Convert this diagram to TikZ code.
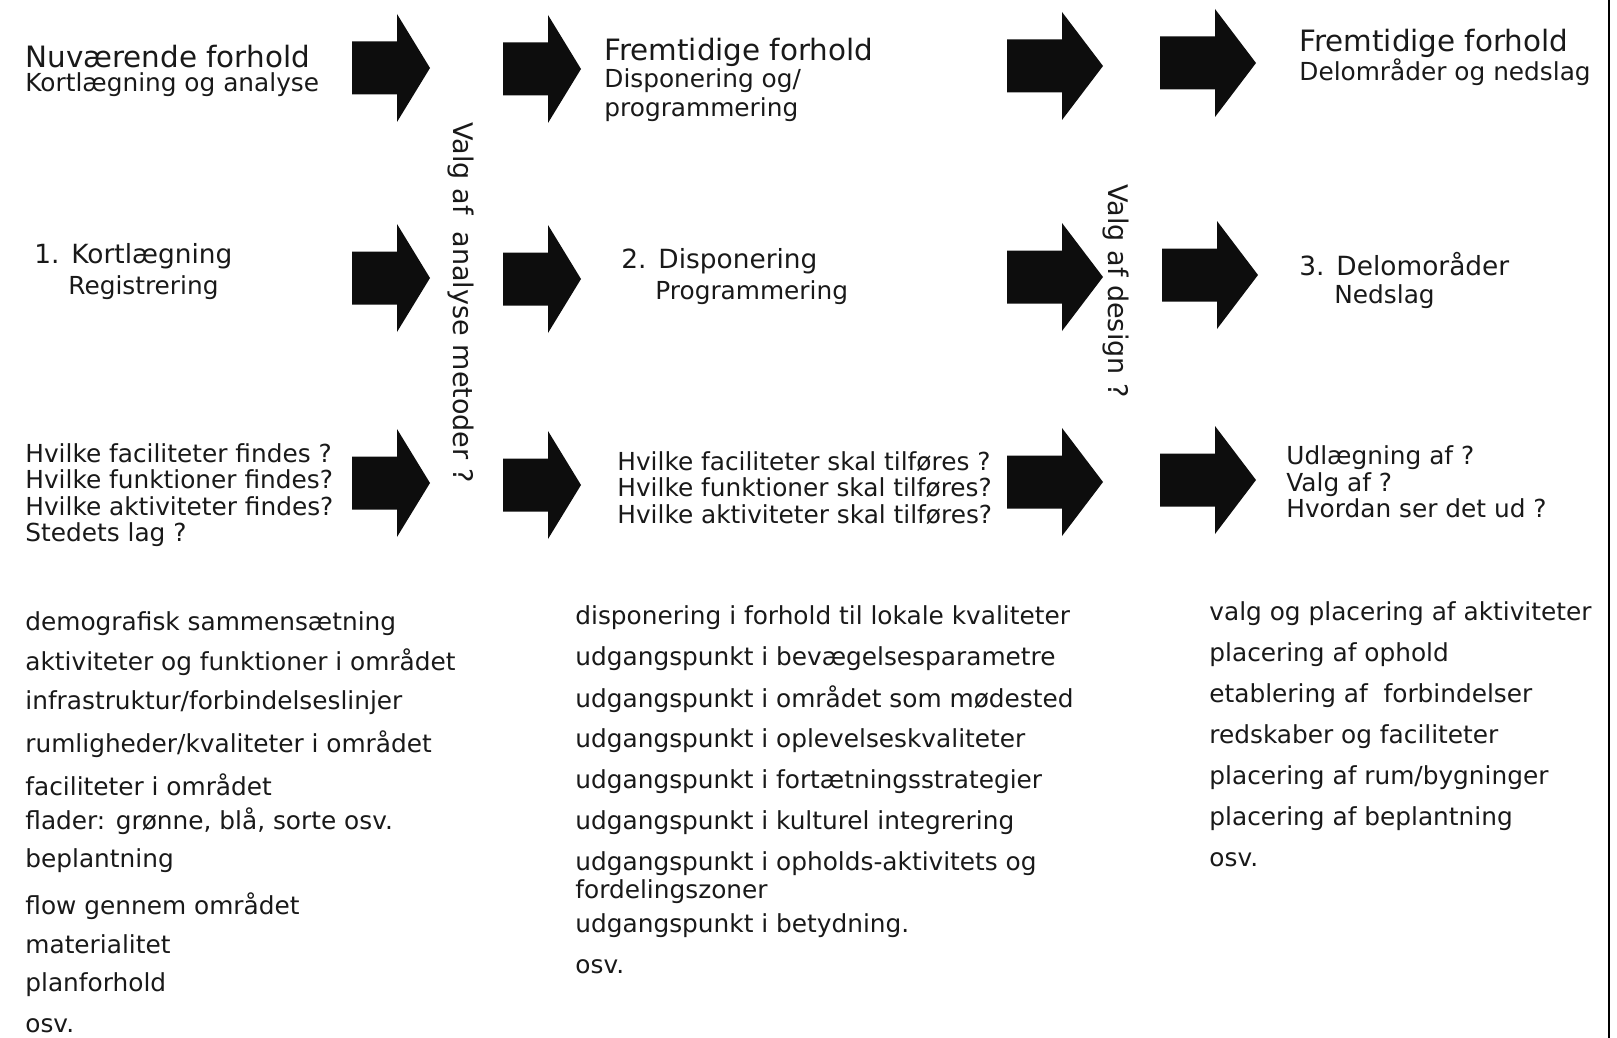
\documentclass[tikz,border=0pt]{standalone}
\usepackage{fontspec}
\setmainfont{DejaVu Sans}
\tikzset{
        node_text/.style={inner sep=0pt, anchor=west, align=left, text=black!90},
        % Column headings
        node_head/.style={node_text, font=\fontsize{14.7}{17}\selectfont},
        % Sub headings
        node_sub/.style={node_text, font=\fontsize{12.4}{14.5}\selectfont},
        % Numbered steps
        node_step/.style={node_text, font=\fontsize{13.2}{15}\selectfont},
        % Question blocks
        node_question/.style={node_text, font=\fontsize{12.4}{13.25}\selectfont},
        % List items
        node_item/.style={node_text, font=\fontsize{12.4}{14}\selectfont},
        % Rotated choice labels
        node_choice/.style={inner sep=0pt, anchor=west, rotate=-90, text=black!90, font=\fontsize{13.5}{15}\selectfont},
        % Block arrows: shaft length, head length
        pics/block_arrow/.style n args={2}{code={
            \fill[black!95] (0,-26.5) -- (#1,-26.5) -- (#1,-54) -- (#1+#2,0)
                -- (#1,54) -- (#1,26.5) -- (0,26.5) -- cycle;
        }}
}
\begin{document}
\begin{tikzpicture}[x=0.5pt, y=-0.5pt]
            \useasboundingbox (0,0) rectangle (1617,1038);
            \draw[line width=1pt] (1609,0) -- (1609,1038);

            % arrows
            \foreach \ax/\ay in {352/68, 503/69, 352/278, 503/279, 352/483, 503/485}
                \pic at (\ax,\ay) {block_arrow={45}{33}};
            \foreach \ax/\ay in {1007/66, 1160/63, 1007/277, 1162/275, 1007/482, 1160/480}
                \pic at (\ax,\ay) {block_arrow={55}{41}};

            % headings
            \node[node_head] (now_head) at (25,57) {Nuværende forhold};
            \node[node_sub] (now_sub) at (25,85) {Kortlægning og analyse};
            \node[node_head] (future_head) at (604,52) {Fremtidige forhold};
            \node[node_sub] (future_sub) at (604,95) {Disponering og/\\programmering};
            \node[node_head] (part_head) at (1299,43) {Fremtidige forhold};
            \node[node_sub] (part_sub) at (1299,72) {Delområder og nedslag};

            % steps
            \node[node_step] (step_one) at (34,256) {1.\hspace{0.45em}Kortlægning};
            \node[node_sub] (step_one_sub) at (68,288) {Registrering};
            \node[node_step] (step_two) at (621,261) {2.\hspace{0.45em}Disponering};
            \node[node_sub] (step_two_sub) at (655,293) {Programmering};
            \node[node_step] (step_three) at (1299,264) {3.\hspace{0.45em}Delomoråder};
            \node[node_sub] (step_three_sub) at (1334,297) {Nedslag};

            % questions
            \node[node_question] (ask_one) at (25,495) {Hvilke faciliteter findes ?\\Hvilke funktioner findes?\\Hvilke aktiviteter findes?\\Stedets lag ?};
            \node[node_question] (ask_two) at (617,488) {Hvilke faciliteter skal tilføres ?\\Hvilke funktioner skal tilføres?\\Hvilke aktiviteter skal tilføres?};
            \node[node_question] (ask_three) at (1286,482) {Udlægning af ?\\Valg af ?\\Hvordan ser det ud ?};

            % choices
            \node[node_choice] (choice_method) at (461,122) {Valg af\ \ analyse metoder ?};
            \node[node_choice] (choice_design) at (1116,184) {Valg af design ?};

            % lists
            \foreach \ly/\ltext [count=\i] in {624/{demografisk sammensætning}, 662/{aktiviteter og funktioner i området},
                703/{infrastruktur/forbindelseslinjer}, 744/{rumligheder/kvaliteter i området}, 785/{faciliteter i området},
                821/{flader: grønne, blå, sorte osv.}, 861/{beplantning}, 906/{flow gennem området}, 944/{materialitet},
                985/{planforhold}, 1026/{osv.}}
                \node[node_item] (map_\i) at (25,\ly) {\ltext};
            \foreach \ly/\ltext [count=\i] in {618/{disponering i forhold til lokale kvaliteter}, 659/{udgangspunkt i bevægelsesparametre},
                699/{udgangspunkt i området som mødested}, 741/{udgangspunkt i oplevelseskvaliteter},
                782/{udgangspunkt i fortætningsstrategier}, 823/{udgangspunkt i kulturel integrering},
                864/{udgangspunkt i opholds-aktivitets og}, 892/{fordelingszoner}, 926/{udgangspunkt i betydning.}, 967/{osv.}}
                \node[node_item] (plan_\i) at (575,\ly) {\ltext};
            \foreach \ly/\ltext [count=\i] in {614/{valg og placering af aktiviteter}, 655/{placering af ophold},
                696/{etablering af\ \ forbindelser}, 737/{redskaber og faciliteter}, 778/{placering af rum/bygninger},
                819/{placering af beplantning}, 860/{osv.}}
                \node[node_item] (design_\i) at (1209,\ly) {\ltext};
        \end{tikzpicture}
\end{document}
